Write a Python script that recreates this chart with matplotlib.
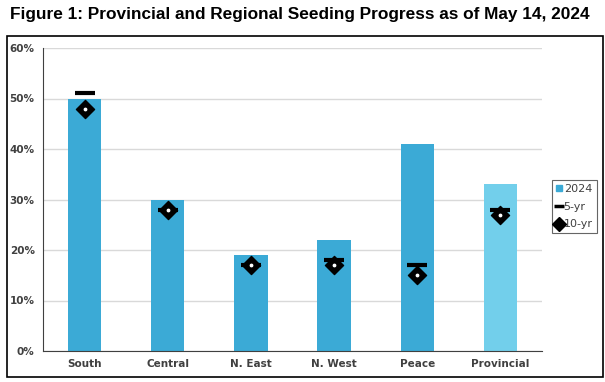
import matplotlib
matplotlib.use("Agg")
import matplotlib.pyplot as plt
from matplotlib.patches import Rectangle
from matplotlib.lines import Line2D

categories = ["South", "Central", "N. East", "N. West", "Peace", "Provincial"]
v2024 = [50, 30, 19, 22, 41, 33]
v5yr = [51, 28, 17, 18, 17, 28]
v10yr = [48, 28, 17, 17, 15, 27]
yticks = [0, 10, 20, 30, 40, 50, 60]

bar_colors = ["#3BAAD6"] * 5 + ["#72CFEB"]

fig = plt.figure(figsize=(6.05, 3.82), dpi=100)
title = fig.text(0.017, 0.962, "Figure 1: Provincial and Regional Seeding Progress as of May 14, 2024",
                 fontsize=13, fontweight="bold", family=["Liberation Sans", "DejaVu Sans"],
                 va="center", ha="left")
# fit title width to reference (~580 px)
fig.canvas.draw()
w = title.get_window_extent().width
title.set_fontsize(13 * 580 / w)

# outer frame
fig.add_artist(Rectangle((7/605, 1-377/382), (603-7)/605, (377-36)/382, transform=fig.transFigure,
                         fill=False, edgecolor="black", linewidth=1.2))

ax = fig.add_axes([43/605, 1-351/382, (542-43)/605, (351-48)/382])
x = list(range(len(categories)))
ax.bar(x, v2024, width=0.4, color=bar_colors, zorder=2)
ax.scatter(x, v5yr, marker="_", s=225, linewidths=3, color="black", zorder=3)
ax.scatter(x, v10yr, marker="D", s=85, color="black", zorder=4)
ax.scatter(x, v10yr, marker="o", s=3, color="white", zorder=5)

ax.set_xlim(-0.5, 5.5)
ax.set_ylim(0, 60)
ax.set_yticks(yticks)
ax.set_yticklabels([f"{t}%" for t in yticks])
ax.set_xticks(x)
ax.set_xticklabels(categories)
ax.yaxis.grid(True, color="#D9D9D9", linewidth=1, zorder=0)
ax.set_axisbelow(True)
for s in ["top", "right"]:
    ax.spines[s].set_visible(False)
ax.spines["left"].set_color("#404040")
ax.spines["bottom"].set_color("#404040")
ax.tick_params(axis="both", length=0, labelsize=7.5, labelcolor="#404040", pad=6)
for lab in ax.get_xticklabels() + ax.get_yticklabels():
    lab.set_fontweight("bold")

handles = [
    Line2D([], [], marker="s", color="#3BAAD6", linestyle="none", markersize=5),
    Line2D([], [], marker="_", color="black", linestyle="none", markersize=7, markeredgewidth=2.5),
    Line2D([], [], marker="D", color="black", linestyle="none", markersize=7),
]
leg = fig.legend(handles, ["2024", "5-yr", "10-yr"], loc="upper left",
                 bbox_to_anchor=(552/605, 1-180/382), fontsize=8, frameon=True,
                 fancybox=False, edgecolor="#404040", handlelength=0.6, handletextpad=0.1,
                 borderpad=0.35, labelspacing=0.7, borderaxespad=0)
for t in leg.get_texts():
    t.set_color("#404040")
leg.get_frame().set_linewidth(0.8)

fig.savefig("out.png", dpi=100)
